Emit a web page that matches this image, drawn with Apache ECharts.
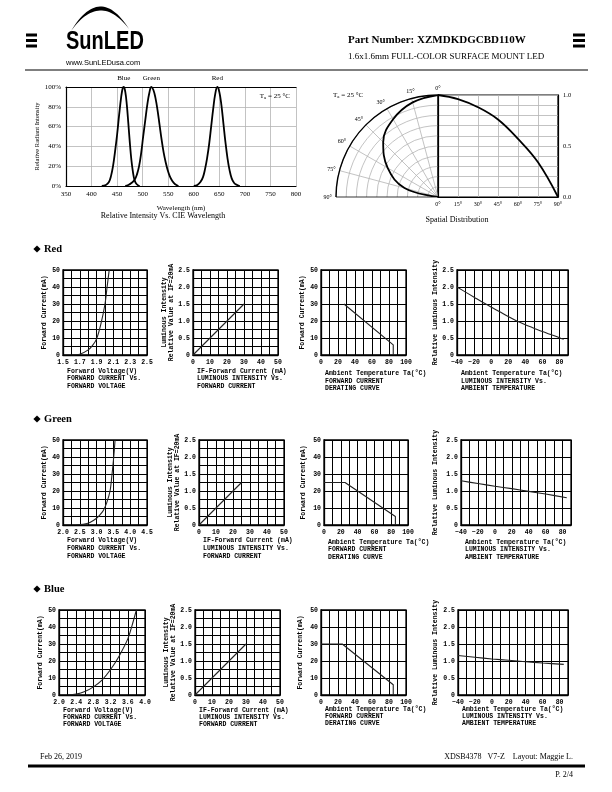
<!DOCTYPE html>
<html><head><meta charset="utf-8">
<script src="https://cdn.jsdelivr.net/npm/echarts@6/dist/echarts.min.js"></script>
<style>html,body{margin:0;padding:0;background:#fff}#c{width:612px;height:792px}</style>
</head><body><div id="c"></div>
<script>
// ---------- DATA ----------
// Relative Intensity vs Wavelength: [nm, %]
const specBlue = [[420,0],[428,1],[434,4],[438,10],[442,20],[446,35],[450,52],[454,72],[458,90],[461,99],[463,100],[466,95],[469,82],[472,63],[475,43],[478,26],[481,14],[484,6],[488,2],[494,0]];
const specGreen = [[466,0],[472,1],[478,3],[484,6],[489,12],[493,20],[497,33],[501,50],[505,66],[509,82],[513,94],[517,100],[521,97],[525,89],[529,77],[533,62],[537,47],[541,34],[545,24],[549,16],[553,10],[558,5],[563,2],[570,0]];
const specRed = [[600,0],[607,1],[613,4],[618,9],[622,17],[626,28],[630,42],[634,60],[638,78],[642,93],[646,100],[650,95],[654,82],[658,63],[662,44],[666,28],[670,16],[674,8],[679,3],[685,1],[690,0]];
const specNames = ['Blue','Green','Red'];
// Spatial distribution
const spatialAngles = [0,15,30,45,60,75,90];
const spatialIntensity = [1.0,0.96,0.88,0.76,0.57,0.34,0];
// Forward current vs forward voltage: [V, mA]
const redIV = [[1.6,0],[1.7,0.4],[1.8,3],[1.85,5.5],[1.9,9.5],[1.95,18],[2.0,30],[2.025,40],[2.05,50]];
const greenIV = [[2.4,0],[2.6,0.4],[2.8,1.5],[3.0,4],[3.1,6],[3.2,8.5],[3.3,13],[3.4,20],[3.46,30],[3.51,40],[3.55,50]];
const blueIV = [[2.2,0],[2.4,0.5],[2.6,2],[2.8,4.8],[3.0,8.8],[3.2,15],[3.4,23],[3.6,33],[3.7,41],[3.8,50]];
// Luminous intensity vs forward current: [mA, rel]
const redLI = [[0,0],[30,1.5]];
const greenLI = [[0,0],[25,1.25]];
const blueLI = [[0,0],[30,1.5]];
// Derating: [°C, mA]
const redDerate = [[27,30],[85,6],[85,0]];
const greenDerate = [[0,25],[25,25],[85,5],[85,0]];
const blueDerate = [[0,30],[25,30],[85,6],[85,0]];
// Luminous intensity vs ambient temperature: [°C, rel]
const redTemp = [[-40,2.0],[-30,1.85],[-20,1.7],[-10,1.55],[0,1.41],[10,1.27],[20,1.13],[30,1.0],[40,0.89],[50,0.79],[60,0.69],[70,0.6],[80,0.51],[85,0.46]];
const greenTemp = [[-40,1.3],[-20,1.22],[0,1.14],[20,1.07],[40,0.99],[60,0.91],[85,0.8]];
const blueTemp = [[-40,1.16],[-20,1.11],[0,1.06],[20,1.02],[40,0.98],[60,0.94],[85,0.9]];

// ---------- BUILD ----------
const serif = 'Liberation Serif', mono = 'Liberation Mono', sans = 'Liberation Sans';
const grids = [], xAxes = [], yAxes = [], series = [], graphics = [];

function fmtStep(base, step, dec, zeroPlain) {
  return function (v) {
    const k = (v - base) / step;
    if (Math.abs(k - Math.round(k)) > 1e-6) return '';
    if (zeroPlain && Math.abs(v) < 1e-9) return '0';
    return v.toFixed(dec).replace('-', '\u2212');
  };
}
function T(x, y, text, font, align, valign, extra) {
  const e = Object.assign({ type: 'text', x: x, y: y, z: 100,
    style: { text: text, font: font, fill: '#000',
      align: align || 'left', verticalAlign: valign || 'middle',
      textAlign: align || 'left', textVerticalAlign: valign || 'middle' } }, extra || {});
  graphics.push(e);
  return e;
}
function TaLabel(x, y, align) {
  const e = T(x, y, '{n|T}{s|a}{n| = 25 \u00b0C}', '7px ' + serif, align);
  e.style.rich = { n: { font: '7px ' + serif, fill: '#000' }, s: { font: '5px ' + serif, fill: '#000', verticalAlign: 'bottom', padding: [3, 0, 0, 0] } };
}

// --- Spectrum chart ---
grids.push({ left: 66, top: 87, width: 230, height: 99, containLabel: false, outerBoundsMode: 'none' });
const specAxisLbl = { color: '#000', fontFamily: serif, fontSize: 7, margin: 5, hideOverlap: false };
xAxes.push({ gridIndex: 0, type: 'value', min: 350, max: 800, interval: 50,
  axisLine: { onZero: false, lineStyle: { color: '#000', width: 1.2 } }, axisTick: { show: false },
  splitLine: { show: true, lineStyle: { color: '#b4b4b4', width: 0.8 } },
  axisLabel: specAxisLbl,
  name: 'Wavelength (nm)', nameLocation: 'middle', nameGap: 19,
  nameTextStyle: { color: '#000', fontFamily: serif, fontSize: 7 } });
xAxes.push({ gridIndex: 0, type: 'value', position: 'top', min: 350, max: 800,
  axisLine: { show: true, onZero: false, lineStyle: { color: '#000', width: 1.2 } },
  axisTick: { show: false }, axisLabel: { show: false }, splitLine: { show: false } });
yAxes.push({ gridIndex: 0, type: 'value', min: 0, max: 100, interval: 20,
  axisLine: { show: true, onZero: false, lineStyle: { color: '#000', width: 1.2 } }, axisTick: { show: false },
  splitLine: { show: true, lineStyle: { color: '#b4b4b4', width: 0.8 } },
  axisLabel: Object.assign({}, specAxisLbl, { formatter: '{value}%' }),
  name: 'Relative Radiant Intensity', nameLocation: 'middle', nameGap: 24, nameRotate: 90,
  nameTextStyle: { color: '#000', fontFamily: serif, fontSize: 6.5 } });
[specBlue, specGreen, specRed].forEach(function (d, i) {
  series.push({ type: 'line', xAxisIndex: 0, yAxisIndex: 0, data: d, smooth: 0.4, symbol: 'none',
    lineStyle: { color: '#000', width: 1.8 },
    markPoint: { symbol: 'circle', symbolSize: 0, data: [{ type: 'max', name: specNames[i] }],
      label: { show: true, position: 'top', distance: 5, formatter: specNames[i], color: '#000', fontFamily: serif, fontSize: 7 } } });
});

// --- Spatial distribution: rect part ---
grids.push({ left: 438, top: 95, width: 120, height: 102, containLabel: false, outerBoundsMode: 'none',
  show: true, borderColor: '#000', borderWidth: 1.2 });
xAxes.push({ gridIndex: 1, type: 'value', min: 0, max: 90, interval: 15,
  axisLine: { onZero: false, lineStyle: { color: '#000', width: 1.2 } }, axisTick: { show: false },
  splitLine: { show: true, lineStyle: { color: '#b4b4b4', width: 0.8 } },
  axisLabel: { color: '#000', fontFamily: serif, fontSize: 6, margin: 4, formatter: '{value}°', hideOverlap: false } });
yAxes.push({ gridIndex: 1, type: 'value', position: 'right', min: 0, max: 1, interval: 0.1,
  axisLine: { show: true, onZero: false, lineStyle: { color: '#000', width: 1.2 } }, axisTick: { show: false },
  splitLine: { show: true, lineStyle: { color: '#b4b4b4', width: 0.8 } },
  axisLabel: { color: '#000', fontFamily: serif, fontSize: 6.5, margin: 5, formatter: fmtStep(0, 0.5, 1, false), hideOverlap: false } });
series.push({ type: 'line', xAxisIndex: 2, yAxisIndex: 1, smooth: 0.4, symbol: 'none',
  data: spatialAngles.map(function (a, i) { return [a, spatialIntensity[i]]; }),
  lineStyle: { color: '#000', width: 1.8 } });
// polar part
series.push({ type: 'line', coordinateSystem: 'polar', polarIndex: 0, smooth: 0.4, symbol: 'none',
  data: spatialAngles.map(function (a, i) { return [spatialIntensity[i], a]; }),
  lineStyle: { color: '#000', width: 1.8 } });

// --- small charts ---
function addSmall(o) {
  const gi = grids.length;
  const xi = xAxes.length;
  grids.push({ left: o.left, top: o.top, width: o.w, height: 85, containLabel: false, outerBoundsMode: 'none',
    show: true, borderColor: '#000', borderWidth: 1.3 });
  const lbl = { color: '#000', fontFamily: mono, fontWeight: 'bold', fontSize: 6.5, hideOverlap: false };
  xAxes.push({ gridIndex: gi, type: 'value', min: o.xmin, max: o.xmax, interval: o.xint,
    axisLine: { show: true, onZero: false, lineStyle: { color: '#000', width: 1.3 } }, axisTick: { show: false },
    splitLine: { show: true, lineStyle: { color: '#000', width: 1 } },
    axisLabel: Object.assign({ margin: 4, formatter: o.xfmt }, lbl) });
  yAxes.push({ gridIndex: gi, type: 'value', min: 0, max: o.ymax, interval: o.yint,
    axisLine: { show: true, onZero: false, lineStyle: { color: '#000', width: 1.3 } }, axisTick: { show: false },
    splitLine: { show: true, lineStyle: { color: '#000', width: 1 } },
    axisLabel: Object.assign({ margin: 3, formatter: o.yfmt }, lbl),
    name: o.yname, nameLocation: 'middle', nameGap: o.gap, nameRotate: 90,
    nameTextStyle: { color: '#000', fontFamily: mono, fontWeight: 'bold', fontSize: 6.5, lineHeight: 7 } });
  series.push({ type: 'line', xAxisIndex: xi, yAxisIndex: gi, data: o.data, smooth: o.smooth || false,
    symbol: 'none', lineStyle: { color: '#222', width: 1.1 } });
  const f = 'bold 6.5px ' + mono;
  const bx = o.left + 4, by = o.top + 85;
  T(bx, by + o.cy[0], o.cap[0], f);
  T(bx, by + o.cy[1], o.cap[1], f);
  T(bx, by + o.cy[2], o.cap[2], f);
}

const rows = [
  { name: 'Red', top: 270, hy: 249,
    iv: { left: 63, w: 84, xmin: 1.5, xmax: 2.5, xint: 0.1, xfmt: fmtStep(1.5, 0.2, 1), data: redIV, gap: 15 },
    li: { left: 193, w: 85, data: redLI, gap: 8 },
    de: { left: 321, w: 85, data: redDerate, gap: 15 },
    te: { left: 457, w: 111, data: redTemp, gap: 17 },
    cy12: [16, 23, 31], cy34: [18, 26, 33] },
  { name: 'Green', top: 440, hy: 419,
    iv: { left: 63, w: 84, xmin: 2.0, xmax: 4.5, xint: 0.25, xfmt: fmtStep(2, 0.5, 1), data: greenIV, gap: 15 },
    li: { left: 199, w: 85, data: greenLI, gap: 7 },
    de: { left: 324, w: 84, data: greenDerate, gap: 17 },
    te: { left: 461, w: 110, data: greenTemp, gap: 22 },
    cy12: [15, 23, 31], cy34: [17, 24, 32] },
  { name: 'Blue', top: 610, hy: 589,
    iv: { left: 59, w: 86, xmin: 2.0, xmax: 4.0, xint: 0.2, xfmt: fmtStep(2, 0.4, 1), data: blueIV, gap: 14 },
    li: { left: 195, w: 85, data: blueLI, gap: 9 },
    de: { left: 321, w: 85, data: blueDerate, gap: 17 },
    te: { left: 458, w: 110, data: blueTemp, gap: 19 },
    cy12: [15, 22, 29], cy34: [14, 21, 28] }
];

rows.forEach(function (r) {
  graphics.push({ type: 'polygon', z: 100, shape: { points: [[37, r.hy - 3.6], [40.6, r.hy], [37, r.hy + 3.6], [33.4, r.hy]] }, style: { fill: '#000' } });
  T(44, r.hy, r.name, 'bold 10.5px ' + serif);
  addSmall({ left: r.iv.left, top: r.top, w: r.iv.w, xmin: r.iv.xmin, xmax: r.iv.xmax, xint: r.iv.xint, xfmt: r.iv.xfmt,
    ymax: 50, yint: 5, yfmt: fmtStep(0, 10, 0), data: r.iv.data, smooth: 0.3, gap: r.iv.gap,
    yname: 'Forward Current(mA)', cap: ['Forward Voltage(V)', 'FORWARD CURRENT Vs.', 'FORWARD VOLTAGE'], cy: r.cy12 });
  addSmall({ left: r.li.left, top: r.top, w: r.li.w, xmin: 0, xmax: 50, xint: 5, xfmt: fmtStep(0, 10, 0),
    ymax: 2.5, yint: 0.25, yfmt: fmtStep(0, 0.5, 1, true), data: r.li.data, gap: r.li.gap,
    yname: 'Luminous Intensity\nRelative Value at IF=20mA', cap: ['IF-Forward Current (mA)', 'LUMINOUS INTENSITY Vs.', 'FORWARD CURRENT'], cy: r.cy12 });
  addSmall({ left: r.de.left, top: r.top, w: r.de.w, xmin: 0, xmax: 100, xint: 10, xfmt: fmtStep(0, 20, 0),
    ymax: 50, yint: 10, yfmt: fmtStep(0, 10, 0), data: r.de.data, gap: r.de.gap,
    yname: 'Forward Current(mA)', cap: ['Ambient Temperature Ta(\u00b0C)', 'FORWARD CURRENT', 'DERATING CURVE'], cy: r.cy34 });
  addSmall({ left: r.te.left, top: r.top, w: r.te.w, xmin: -40, xmax: 90, xint: 10, xfmt: fmtStep(-40, 20, 0),
    ymax: 2.5, yint: 0.5, yfmt: fmtStep(0, 0.5, 1, true), data: r.te.data, smooth: 0.3, gap: r.te.gap,
    yname: 'Relative Luminous Intensity', cap: ['Ambient Temperature Ta(\u00b0C)', 'LUMINOUS INTENSITY Vs.', 'AMBIENT TEMPERATURE'], cy: r.cy34 });
});

// ---------- page texts / decoration ----------
[35, 40.5, 46].forEach(function (y) { graphics.push({ type: 'rect', z: 100, shape: { x: 26, y: y - 1.5, width: 11, height: 3 }, style: { fill: '#000' } }); });
[35, 40.5, 46].forEach(function (y) { graphics.push({ type: 'rect', z: 100, shape: { x: 573, y: y - 1.5, width: 12, height: 3 }, style: { fill: '#000' } }); });
(function () {
  function q(p0, c, p2, t) { const u = 1 - t; return [u * u * p0[0] + 2 * u * t * c[0] + t * t * p2[0], u * u * p0[1] + 2 * u * t * c[1] + t * t * p2[1]]; }
  const pts = [];
  for (let i = 0; i <= 30; i++) pts.push(q([71, 31], [100, -17], [129, 29], i / 30));
  for (let i = 30; i >= 0; i--) pts.push(q([71, 31], [100, -9], [129, 29], i / 30));
  graphics.push({ type: 'polygon', z: 100, shape: { points: pts }, style: { fill: '#000' } });
})();
T(66, 42, 'SunLED', 'bold 26px ' + sans, 'left', 'middle', { scaleX: 0.77 });
T(66, 62.5, 'www.SunLEDusa.com', '7.5px ' + sans);
T(348, 40, 'Part Number: XZMDKDGCBD110W', 'bold 11px ' + serif);
T(348, 57, '1.6x1.6mm FULL-COLOR SURFACE MOUNT LED', '9px ' + serif);
graphics.push({ type: 'line', z: 100, shape: { x1: 25, y1: 70, x2: 588, y2: 70 }, style: { stroke: '#000', lineWidth: 1.2 } });

TaLabel(290, 96, 'right');
T(163, 216, 'Relative Intensity Vs. CIE Wavelength', '8px ' + serif, 'center');
TaLabel(333, 95, 'left');
T(457, 220, 'Spatial Distribution', '8px ' + serif, 'center');

T(40, 757, 'Feb 26, 2019', '8px ' + serif);
T(573, 757, 'XDSB4378   V7-Z    Layout: Maggie L.', '8px ' + serif, 'right');
graphics.push({ type: 'line', z: 100, shape: { x1: 28, y1: 766, x2: 585, y2: 766 }, style: { stroke: '#000', lineWidth: 3 } });
T(573, 775, 'P. 2/4', '8px ' + serif, 'right');

const option = {
  animation: false,
  backgroundColor: '#fff',
  grid: grids, xAxis: xAxes, yAxis: yAxes,
  polar: { center: [438, 197], radius: 102 },
  angleAxis: { type: 'value', min: 0, max: 90, interval: 15, startAngle: 90, endAngle: 180, clockwise: false,
    axisLine: { show: true, lineStyle: { color: '#000', width: 1.4 } }, axisTick: { show: false },
    axisLabel: { show: true, color: '#000', fontFamily: serif, fontSize: 6, margin: 4, formatter: '{value}°' },
    splitLine: { show: true, lineStyle: { color: ['#000', '#b4b4b4', '#b4b4b4', '#b4b4b4', '#b4b4b4', '#b4b4b4', '#000'], width: 0.8 } } },
  radiusAxis: { type: 'value', min: 0, max: 1, interval: 0.1,
    axisLine: { show: true, lineStyle: { color: '#000', width: 1.2 } }, axisTick: { show: false },
    axisLabel: { show: false },
    splitLine: { show: true, lineStyle: { color: '#b4b4b4', width: 0.8 } } },
  series: series,
  graphic: graphics
};
const chart = echarts.init(document.getElementById('c'), null, { renderer: 'canvas' });
chart.setOption(option);
</script>
</body></html>
